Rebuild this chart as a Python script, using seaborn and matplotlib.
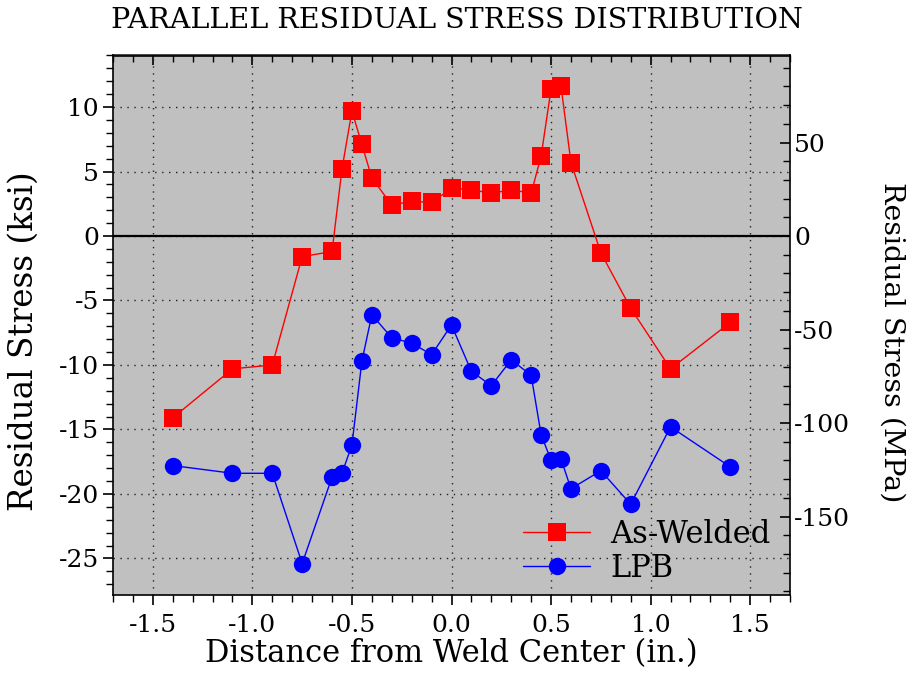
import matplotlib
matplotlib.use("Agg")
import matplotlib.pyplot as plt
import seaborn as sns
import pandas as pd
from matplotlib.ticker import MultipleLocator, FormatStrFormatter

sns.set_theme(style="white")
plt.rcParams['font.family'] = ['DejaVu Serif']
plt.rcParams['axes.unicode_minus'] = False
plt.rcParams['text.color'] = 'black'
plt.rcParams['axes.labelcolor'] = 'black'
plt.rcParams['xtick.color'] = 'black'
plt.rcParams['ytick.color'] = 'black'

aw_x = [-1.4, -1.1, -0.9, -0.75, -0.6, -0.55, -0.5, -0.45, -0.4, -0.3, -0.2, -0.1,
        0.0, 0.1, 0.2, 0.3, 0.4, 0.45, 0.5, 0.55, 0.6, 0.75, 0.9, 1.1, 1.4]
aw_y = [-14.1, -10.3, -10.0, -1.6, -1.2, 5.2, 9.7, 7.1, 4.5, 2.4, 2.7, 2.6,
        3.7, 3.6, 3.3, 3.6, 3.3, 6.2, 11.4, 11.6, 5.7, -1.3, -5.6, -10.3, -6.7]
lpb_x = [-1.4, -1.1, -0.9, -0.75, -0.6, -0.55, -0.5, -0.45, -0.4, -0.3, -0.2, -0.1,
         0.0, 0.1, 0.2, 0.3, 0.4, 0.45, 0.5, 0.55, 0.6, 0.75, 0.9, 1.1, 1.4]
lpb_y = [-17.8, -18.4, -18.4, -25.4, -18.7, -18.4, -16.2, -9.7, -6.1, -7.9, -8.3, -9.2,
         -6.9, -10.5, -11.6, -9.6, -10.8, -15.4, -17.4, -17.3, -19.6, -18.2, -20.8, -14.8, -17.9]

df = pd.concat([
    pd.DataFrame({"x": aw_x, "y": aw_y, "series": "As-Welded"}),
    pd.DataFrame({"x": lpb_x, "y": lpb_y, "series": "LPB"}),
])

fig = plt.figure(figsize=(9.08, 6.74), dpi=100)
ax = fig.add_axes([113/908, 1-594.5/674, (790-113)/908, (594.5-55.5)/674])
ax.set_facecolor("#c0c0c0")

sns.lineplot(data=df, x="x", y="y", hue="series", style="series",
             palette={"As-Welded": "#ff0000", "LPB": "#0000ff"},
             markers={"As-Welded": "s", "LPB": "o"}, dashes=False,
             markersize=12.5, linewidth=1.0, markeredgewidth=0,
             ax=ax, sort=False, estimator=None, zorder=3)

ax.axhline(0, color="black", lw=1.6, zorder=2)

xmin, xmax = -1.7, 1.7
ymin, ymax = -27.8, 14.0
ax.set_xlim(xmin, xmax)
ax.set_ylim(ymin, ymax)
ax.xaxis.set_major_locator(MultipleLocator(0.5))
ax.xaxis.set_minor_locator(MultipleLocator(0.1))
ax.yaxis.set_major_locator(MultipleLocator(5))
ax.yaxis.set_minor_locator(MultipleLocator(1))
ax.xaxis.set_major_formatter(FormatStrFormatter("%.1f"))
ax.grid(True, which="major", linestyle=(0, (1, 4)), color="#222222", lw=1.0)

ax.tick_params(axis="x", which="both", bottom=True, top=False, direction="out",
               labelsize=18, pad=7)
ax.tick_params(axis="x", which="major", length=7, width=1.2)
ax.tick_params(axis="x", which="minor", length=5, width=1.0)
ax.tick_params(axis="y", which="both", left=True, right=False, direction="out",
               labelsize=18, pad=3)
ax.tick_params(axis="y", which="major", length=7, width=1.2)
ax.tick_params(axis="y", which="minor", length=5, width=1.0)
for s in ax.spines.values():
    s.set_color("black")
    s.set_linewidth(1.2)

ax.set_xlabel("Distance from Weld Center (in.)", fontsize=22, labelpad=1)
ax.set_ylabel("Residual Stress (ksi)", fontsize=23.5)
ax.yaxis.set_label_coords(-0.108, 0.47)

# secondary axis in MPa
ax2 = ax.twinx()
k = 6.895
ax2.set_ylim(ymin * k, ymax * k)
ax2.yaxis.set_major_locator(MultipleLocator(50))
ax2.yaxis.set_minor_locator(MultipleLocator(10))
ax2.tick_params(axis="y", which="both", direction="in", labelsize=18, pad=3)
ax2.tick_params(axis="y", which="major", length=7, width=1.2)
ax2.tick_params(axis="y", which="minor", length=5, width=1.0)
ax2.grid(False)
ax2.set_ylabel("Residual Stress (MPa)", fontsize=20.5, rotation=270, va="center")
ax2.yaxis.set_label_coords(1.150, 0.468)
for s in ax2.spines.values():
    s.set_visible(False)

# top ticks inward
secx = ax.secondary_xaxis("top")
secx.xaxis.set_major_locator(MultipleLocator(0.5))
secx.xaxis.set_minor_locator(MultipleLocator(0.1))
secx.tick_params(axis="x", which="both", direction="in", labeltop=False)
secx.tick_params(axis="x", which="major", length=7, width=1.2)
secx.tick_params(axis="x", which="minor", length=5, width=1.0)
secx.spines["top"].set_linewidth(1.2)

leg = ax.legend(loc="upper left", bbox_to_anchor=(0.6056, 0.14), frameon=False,
                fontsize=22, handlelength=2.2, handletextpad=0.65, labelspacing=0.1,
                borderpad=0, borderaxespad=0)
leg.set_title(None)

fig.suptitle("PARALLEL RESIDUAL STRESS DISTRIBUTION", x=0.503, y=0.99,
             fontsize=20.5, va="top")

fig.savefig("out.png", dpi=100)
